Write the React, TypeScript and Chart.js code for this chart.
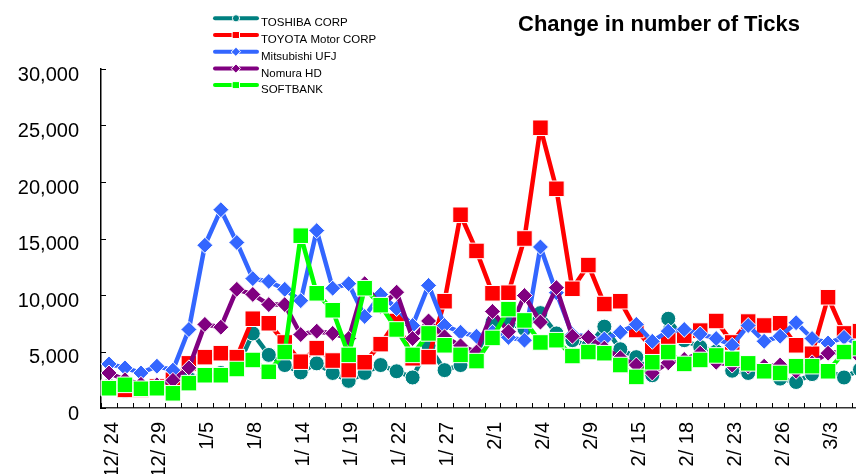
import { useEffect, useRef } from 'react';
import { Chart, registerables } from 'chart.js';

Chart.register(...registerables);

const FONT = '"Liberation Sans", Arial, Helvetica, sans-serif';

const dates = [
  '12/ 24', '12/ 25', '12/ 28', '12/ 29', '12/ 30', '1/4', '1/5', '1/6', '1/7', '1/8',
  '1/ 12', '1/ 13', '1/ 14', '1/ 15', '1/ 18', '1/ 19', '1/ 20', '1/ 21', '1/ 22', '1/ 25',
  '1/ 26', '1/ 27', '1/ 28', '1/ 29', '2/1', '2/2', '2/3', '2/4', '2/5', '2/8',
  '2/9', '2/ 10', '2/ 12', '2/ 15', '2/ 16', '2/ 17', '2/ 18', '2/ 19', '2/ 22', '2/ 23',
  '2/ 24', '2/ 25', '2/ 26', '3/1', '3/2', '3/3', '3/4', '3/5',
];

const toshiba = [
  2000, 1500, 1800, 2000, 2300, 2600, 2900, 3100, 3500, 6600,
  4700, 3800, 3150, 3950, 3100, 2400, 3100, 3800, 3250, 2700,
  5500, 3350, 3800, 4800, 7600, 7500, 7000, 8400, 6600, 6000,
  5500, 7200, 5200, 4500, 2900, 7900, 6000, 5400, 5000, 3300,
  3100, 3400, 2600, 2300, 3000, 3300, 2700, 3400,
];

const toyota = [
  1800, 1600, 1600, 1900, 2500, 3950, 4500, 4850, 4500, 7900,
  7500, 5800, 4100, 5300, 4200, 3350, 4050, 5650, 7700, 4400,
  4500, 9450, 17100, 13900, 10150, 10200, 15000, 24800, 19400, 10550,
  12650, 9200, 9450, 6900, 5300, 6250, 6400, 6850, 7700, 5800,
  7650, 7300, 7500, 5550, 4800, 9800, 6600, 6800,
];

const mufj = [
  3900, 3550, 3100, 3700, 3350, 6950, 14400, 17550, 14650, 11450,
  11200, 10500, 9500, 15700, 10600, 11000, 8100, 10050, 8800, 7300,
  10850, 7300, 6700, 6350, 6700, 6250, 6000, 14250, 10200, 6500,
  6300, 6100, 6700, 7400, 5900, 6800, 6950, 6550, 6150, 5550,
  7300, 5900, 6350, 7550, 6150, 5750, 6250, 5600,
];

const nomura = [
  3100, 2500, 2100, 2050, 2450, 3550, 7400, 7150, 10500, 10050,
  9150, 9150, 6500, 6800, 6600, 6150, 11000, 9000, 10250, 6150,
  7700, 6300, 5500, 4950, 8550, 6750, 9950, 7600, 10650, 6350,
  6250, 5300, 4450, 3800, 3100, 4000, 4300, 4850, 4050, 3800,
  3700, 3700, 3800, 3250, 4000, 4850, 5000, 4500,
];

const softbank = [
  1750, 2050, 1700, 1750, 1300, 2200, 2900, 2900, 3450, 4250,
  3200, 4950, 15250, 10150, 8650, 4700, 10600, 9100, 6950, 4700,
  6600, 5550, 4700, 4150, 6200, 8750, 7750, 5800, 6000, 4600,
  4950, 4850, 3800, 2750, 4050, 4950, 3900, 4250, 4650, 4350,
  3950, 3250, 3100, 3700, 3700, 3250, 4950, 5300,
];

const seriesNames = ['TOSHIBA CORP', 'TOYOTA Motor CORP', 'Mitsubishi UFJ', 'Nomura HD', 'SOFTBANK'];
const chartTitle = 'Change in number of Ticks';
const yMax = 30000;
const yStep = 5000;

export default function App() {
  const ref = useRef<HTMLCanvasElement>(null);

  useEffect(() => {
    if (!ref.current) return;

    const mk = (label: string, data: number[], color: string, pointStyle: string, radius: number, order: number) => ({
      label,
      data,
      borderColor: color,
      backgroundColor: color,
      pointBackgroundColor: color,
      pointBorderColor: '#ffffff',
      pointBorderWidth: 1,
      pointStyle,
      pointRadius: radius,
      pointHoverRadius: radius,
      borderWidth: 4.5,
      borderJoinStyle: 'round',
      borderCapStyle: 'round',
      tension: 0,
      order,
      fill: false,
    });

    const datasets: any[] = [
      mk(seriesNames[0], toshiba, '#008080', 'circle', 7.5, 5),
      mk(seriesNames[1], toyota, '#FF0000', 'rect', 11, 4),
      mk(seriesNames[2], mufj, '#3366FF', 'rectRot', 8, 3),
      mk(seriesNames[3], nomura, '#800080', 'rectRot', 8, 2),
      mk(seriesNames[4], softbank, '#00FF00', 'rect', 11, 1),
    ];

    const axisTicks = {
      id: 'axisTicks',
      beforeDatasetsDraw(chart: any) {
        const { ctx, chartArea, scales } = chart;
        const x = scales.x;
        const y = scales.y;
        ctx.save();
        ctx.strokeStyle = '#000';
        ctx.lineWidth = 1;
        ctx.beginPath();
        y.ticks.forEach((_t: any, i: number) => {
          const py = Math.round(y.getPixelForTick(i)) + 0.5;
          ctx.moveTo(chartArea.left, py);
          ctx.lineTo(chartArea.left + 5, py);
        });
        for (let i = 0; i <= x.ticks.length; i++) {
          const px = Math.round(x.getPixelForValue(i - 0.5)) + 0.5;
          ctx.moveTo(px, chartArea.bottom);
          ctx.lineTo(px, chartArea.bottom - 5);
        }
        ctx.stroke();
        ctx.restore();
      },
    };

    const drawMarker = (ctx: CanvasRenderingContext2D, style: string, cx: number, cy: number, color: string) => {
      ctx.beginPath();
      if (style === 'circle') {
        ctx.arc(cx, cy, 3.6, 0, Math.PI * 2);
      } else if (style === 'rect') {
        ctx.rect(cx - 3.5, cy - 3.5, 7, 7);
      } else {
        ctx.moveTo(cx - 4.5, cy);
        ctx.lineTo(cx, cy - 4.5);
        ctx.lineTo(cx + 4.5, cy);
        ctx.lineTo(cx, cy + 4.5);
        ctx.closePath();
      }
      ctx.fillStyle = color;
      ctx.fill();
      ctx.lineWidth = 1;
      ctx.strokeStyle = '#fff';
      ctx.stroke();
    };

    const legendTitle = {
      id: 'legendTitle',
      afterDraw(chart: any) {
        const { ctx } = chart;
        ctx.save();
        chart.data.datasets.forEach((ds: any, i: number) => {
          const ly = 18.3 + i * 16.7;
          ctx.beginPath();
          ctx.strokeStyle = ds.borderColor;
          ctx.lineWidth = 4;
          ctx.lineCap = 'round';
          ctx.moveTo(215, ly);
          ctx.lineTo(257, ly);
          ctx.stroke();
          drawMarker(ctx, ds.pointStyle, 236, ly, ds.borderColor);
          ctx.fillStyle = '#000';
          ctx.font = `11.5px ${FONT}`;
          ctx.textAlign = 'left';
          ctx.textBaseline = 'middle';
          ctx.fillText(ds.label, 261, ly + 5);
        });
        ctx.font = `bold 22px ${FONT}`;
        ctx.fillStyle = '#000';
        ctx.textAlign = 'left';
        ctx.textBaseline = 'alphabetic';
        ctx.fillText(chartTitle, 518, 30.5);
        ctx.restore();
      },
    };

    const chart = new Chart(ref.current, {
      type: 'line',
      data: { labels: dates, datasets },
      options: {
        responsive: false,
        animation: false,
        layout: { padding: { top: 69, right: 11, left: 0, bottom: 0 } },
        plugins: {
          legend: { display: false },
          tooltip: { enabled: false },
          title: { display: false },
        },
        scales: {
          x: {
            type: 'category',
            offset: true,
            grid: { display: false, offset: true, drawTicks: false },
            border: { display: true, color: '#333', width: 1.5 },
            ticks: {
              autoSkip: false,
              minRotation: 90,
              maxRotation: 90,
              padding: 14,
              labelOffset: 3,
              color: '#000',
              font: { family: FONT, size: 20 },
              callback: (_v: any, i: number) => (i % 3 === 0 ? dates[i] : ''),
            },
            afterFit: (s: any) => {
              s.height = 66;
              s.paddingLeft = 0;
              s.paddingRight = 0;
            },
          },
          y: {
            min: 0,
            max: yMax,
            grid: { display: false, drawTicks: false },
            border: { display: true, color: '#000', width: 1.5 },
            ticks: {
              stepSize: yStep,
              padding: 22,
              labelOffset: 6,
              color: '#000',
              font: { family: FONT, size: 20 },
              callback: (v: any) => Number(v).toLocaleString('en-US'),
            },
            afterFit: (s: any) => {
              s.width = 101;
            },
          },
        },
      } as any,
      plugins: [axisTicks, legendTitle],
    });

    return () => chart.destroy();
  }, []);

  return (
    <div style={{ position: 'fixed', left: 0, top: 0, width: 856, height: 474, overflow: 'hidden', background: '#fff' }}>
      <canvas ref={ref} width={880} height={474} style={{ width: 880, height: 474, display: 'block' }} />
    </div>
  );
}
